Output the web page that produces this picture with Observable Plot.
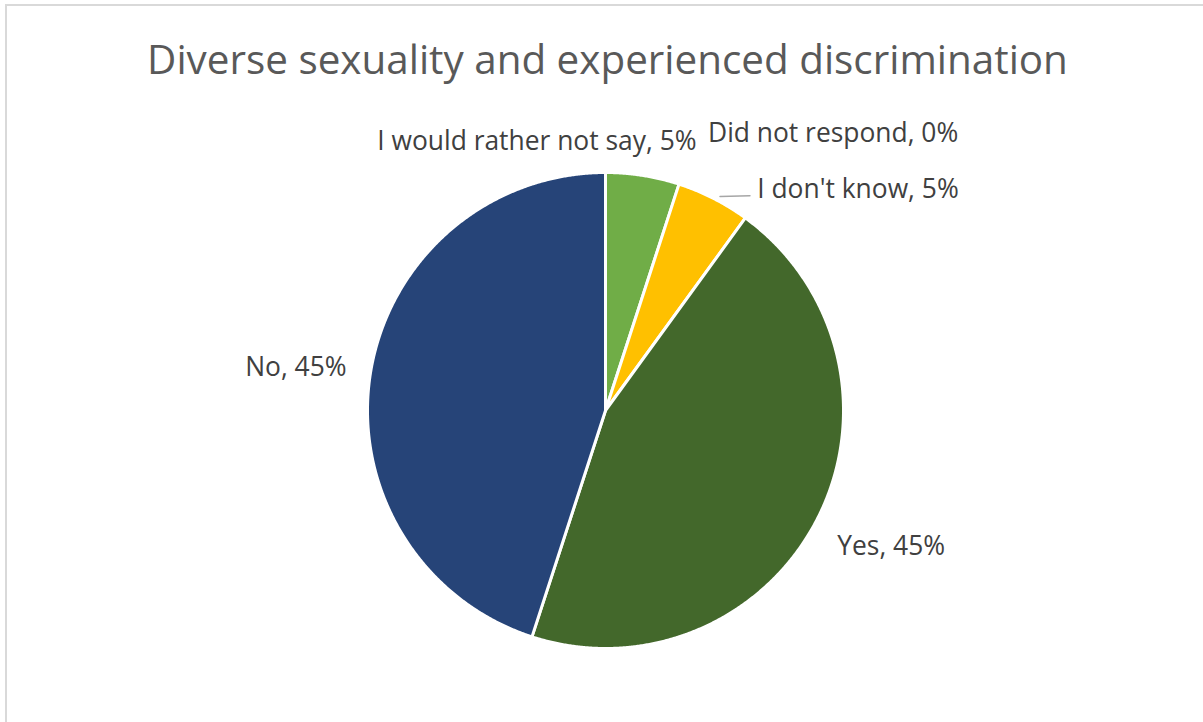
<!DOCTYPE html>
<html><head><meta charset="utf-8">
<script src="https://cdn.jsdelivr.net/npm/d3@7"></script>
<script src="https://cdn.jsdelivr.net/npm/@observablehq/plot@0.6"></script>
<style>
body{margin:0;background:#fff;}
#wrap{position:relative;width:1203px;height:722px;overflow:hidden;font-family:"Open Sans",sans-serif;}
#frame{position:absolute;left:5px;top:4px;width:1300px;height:800px;border:2px solid #d9d9d9;box-sizing:border-box;}
#title{position:absolute;top:33px;left:6px;width:1203px;text-align:center;font-size:40.4px;line-height:52px;color:#595959;white-space:nowrap;}
#chart{position:absolute;left:0;top:100px;}
</style></head>
<body>
<div id="wrap">
<div id="frame"></div>
<div id="title">Diverse sexuality and experienced discrimination</div>
<div id="chart"></div>
</div>
<script>
// ---- data ----
const categories = ["I would rather not say", "Did not respond", "I don't know", "Yes", "No"];
const percents = [5, 0, 5, 45, 45];
const colors = ["#70AD47", "#A5A5A5", "#FFC000", "#43682B", "#264478"];

// ---- layout ----
const W = 1203, H = 622, cx = 605, cy = 310, R = 238;
const labelRadius = 1.3;
// pixel nudges of each data label from its default (mid-angle) position
const labelNudge = [[-117, 37], [132, 17], [112, 55], [10, -4], [-4, 5]];
const leaderNudge = [-108, 6];

const arcs = d3.pie().sort(null).value(d => d)(percents);

const slicePts = [];
arcs.forEach((a, i) => {
  if (a.endAngle - a.startAngle <= 0) return;
  const cat = categories[i];
  slicePts.push({cat, x: 0, y: 0});
  const n = Math.max(2, Math.ceil((a.endAngle - a.startAngle) / 0.005));
  for (let k = 0; k <= n; k++) {
    const t = a.startAngle + (a.endAngle - a.startAngle) * k / n;
    slicePts.push({cat, x: Math.sin(t), y: Math.cos(t)});
  }
  slicePts.push({cat, x: 0, y: 0});
});

const labels = arcs.map((a, i) => {
  const m = (a.startAngle + a.endAngle) / 2;
  return {
    text: `${categories[i]}, ${percents[i]}%`,
    x: Math.sin(m) * labelRadius + labelNudge[i][0] / R,
    y: Math.cos(m) * labelRadius - labelNudge[i][1] / R
  };
});

const dk = arcs[2];
const dkMid = (dk.startAngle + dk.endAngle) / 2;
const leader = [
  {x: Math.sin(dkMid + 0.02) * 1.02, y: Math.cos(dkMid + 0.02) * 1.02},
  {x: labels[2].x + leaderNudge[0] / R, y: labels[2].y - leaderNudge[1] / R}
];

const chart = Plot.plot({
  width: W, height: H, margin: 0,
  style: {background: "transparent", fontFamily: "'Open Sans', sans-serif"},
  x: {domain: [-cx / R, (W - cx) / R], axis: null},
  y: {domain: [-(H - cy) / R, cy / R], axis: null},
  color: {domain: categories, range: colors},
  marks: [
    Plot.line(slicePts, {x: "x", y: "y", z: "cat", fill: "cat", stroke: "white", strokeWidth: 3, strokeLinejoin: "round", curve: "linear"}),
    Plot.line(leader, {x: "x", y: "y", stroke: "#a6a6a6", strokeWidth: 1.5}),
    Plot.text(labels, {x: "x", y: "y", text: "text", fill: "#404040", fontSize: 26.4, textAnchor: "middle"})
  ]
});
document.getElementById("chart").appendChild(chart);
</script>
</body></html>
